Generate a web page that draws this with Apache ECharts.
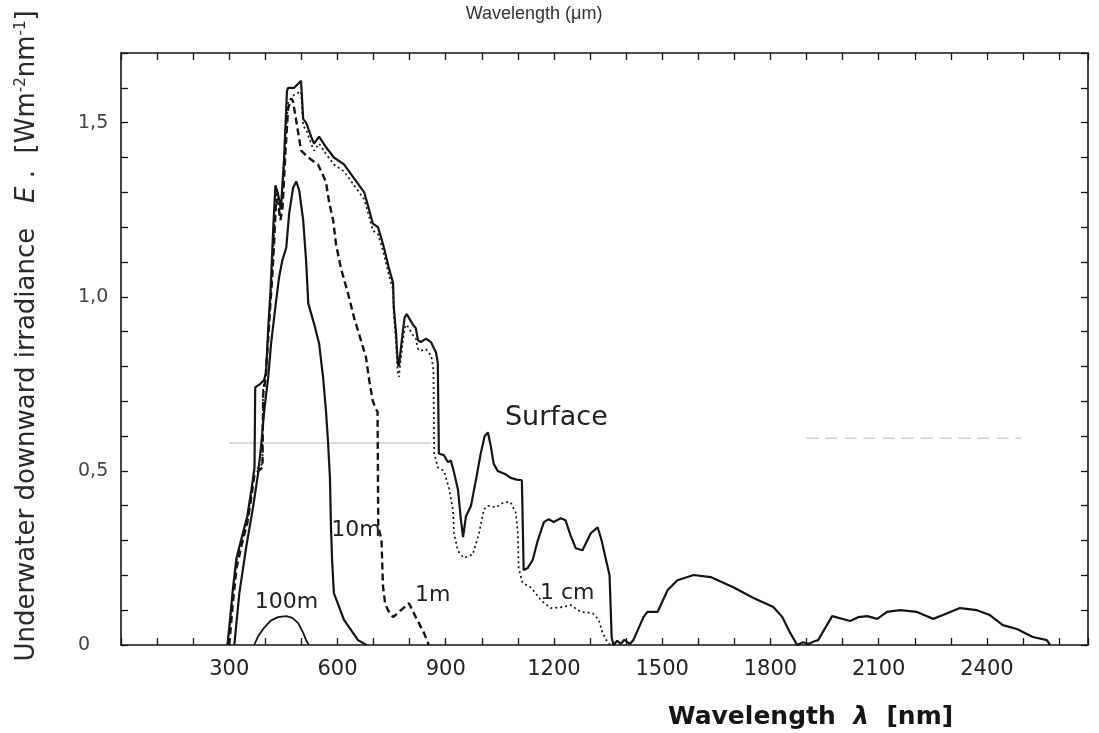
<!DOCTYPE html>
<html>
<head>
<meta charset="utf-8">
<title>Underwater downward irradiance</title>
<script src="https://cdn.jsdelivr.net/npm/echarts@6/dist/echarts.min.js"></script>
<style>
  html, body { margin: 0; padding: 0; background: #fff; }
  #chart { width: 1099px; height: 733px; }
</style>
</head>
<body>
<div id="chart"></div>
<script>
// Spectral irradiance just below the surface and at four depths (nm, W m^-2 nm^-1)
const surfaceNm = [295,300,310,320,335,350,362,370,372,386,396,402,408,414,418,422,428,434,440,443,452,460,463,480,499,505,513,527,535,549,568,590,618,646,674,685,698,712,721,729,743,754,756,762,767,770,781,786,792,809,817,823,831,845,859,873,878,881,895,906,914,922,934,942,948,956,970,983,997,1008,1017,1025,1033,1044,1066,1080,1097,1111,1116,1127,1141,1155,1172,1185,1199,1219,1232,1246,1260,1279,1302,1321,1332,1343,1354,1360,1365,1375,1385,1395,1410,1420,1448,1459,1487,1515,1542,1587,1634,1697,1753,1808,1833,1855,1874,1890,1905,1920,1932,1971,2021,2043,2068,2096,2123,2159,2206,2251,2278,2325,2372,2408,2444,2483,2527,2566,2575];
const surfaceE  = [0,0.05,0.16,0.25,0.31,0.37,0.45,0.51,0.74,0.75,0.76,0.78,0.91,1.01,1.10,1.20,1.32,1.30,1.27,1.25,1.40,1.59,1.60,1.60,1.62,1.51,1.50,1.46,1.44,1.46,1.43,1.40,1.38,1.34,1.30,1.26,1.21,1.20,1.17,1.14,1.08,1.04,0.97,0.90,0.81,0.80,0.90,0.94,0.95,0.92,0.91,0.875,0.87,0.88,0.87,0.84,0.81,0.55,0.545,0.525,0.53,0.50,0.445,0.36,0.31,0.37,0.40,0.47,0.55,0.60,0.61,0.57,0.52,0.50,0.49,0.48,0.475,0.473,0.215,0.221,0.244,0.30,0.353,0.361,0.353,0.364,0.358,0.315,0.278,0.272,0.321,0.338,0.30,0.25,0.20,0.02,0,0.012,0.003,0.015,0.003,0.014,0.08,0.095,0.095,0.158,0.186,0.201,0.195,0.166,0.135,0.109,0.08,0.034,0,0.008,0.003,0.01,0.014,0.083,0.069,0.08,0.083,0.075,0.095,0.10,0.095,0.075,0.086,0.106,0.10,0.086,0.057,0.046,0.023,0.014,0];

const cm1Nm = [295,300,310,320,335,350,362,370,392,394,400,408,414,420,425,430,434,440,446,455,463,480,499,505,513,527,535,549,568,590,618,646,674,685,698,712,721,729,743,754,756,762,767,770,781,786,792,809,817,823,831,845,860,866,868,878,895,909,920,923,934,950,975,992,1006,1017,1039,1061,1080,1094,1100,1102,1113,1135,1149,1163,1191,1227,1246,1274,1307,1324,1335,1349,1357];
const cm1E  = [0,0.04,0.15,0.24,0.30,0.36,0.44,0.50,0.52,0.74,0.77,0.89,0.99,1.09,1.19,1.30,1.28,1.24,1.28,1.43,1.56,1.58,1.59,1.49,1.48,1.44,1.42,1.44,1.41,1.38,1.36,1.32,1.28,1.24,1.19,1.18,1.15,1.12,1.06,1.02,0.95,0.87,0.78,0.77,0.87,0.91,0.92,0.89,0.88,0.85,0.845,0.85,0.83,0.79,0.55,0.51,0.50,0.45,0.39,0.32,0.27,0.25,0.26,0.32,0.39,0.40,0.395,0.41,0.41,0.38,0.32,0.22,0.178,0.166,0.149,0.129,0.106,0.109,0.115,0.095,0.092,0.072,0.034,0.006,0];

const m1Nm = [300,310,320,335,350,362,370,392,394,400,408,414,420,425,430,436,442,448,456,463,472,477,485,499,519,532,546,568,577,588,596,610,629,646,665,679,688,698,705,711,713,722,726,732,740,754,776,798,817,840,853];
const m1E  = [0,0.12,0.22,0.29,0.35,0.43,0.49,0.51,0.72,0.76,0.88,0.98,1.07,1.17,1.28,1.26,1.22,1.26,1.42,1.54,1.57,1.56,1.51,1.42,1.40,1.39,1.38,1.33,1.27,1.22,1.15,1.08,1.01,0.94,0.875,0.826,0.76,0.70,0.68,0.67,0.34,0.30,0.17,0.12,0.10,0.08,0.10,0.12,0.08,0.034,0];

const m10Nm = [314,328,347,366,380,388,397,408,416,430,438,447,458,466,477,486,494,505,513,519,535,549,560,568,574,579,582,585,590,618,657,680];
const m10E  = [0,0.149,0.281,0.396,0.493,0.568,0.674,0.769,0.866,0.989,1.055,1.104,1.141,1.239,1.313,1.331,1.305,1.219,1.104,0.981,0.923,0.866,0.769,0.674,0.579,0.482,0.338,0.244,0.149,0.072,0.014,0];

const m100Nm = [369,380,397,415,435,458,475,491,505,513,521];
const m100E  = [0,0.025,0.05,0.07,0.08,0.083,0.078,0.063,0.035,0.014,0];

// Curve annotations: text and the data point its left edge sits on
const curveLabels = [
  { text: 'Surface', nm: 1064, e: 0.652, size: 27 },
  { text: '10m',     nm: 583,  e: 0.330, size: 22 },
  { text: '1m',      nm: 815,  e: 0.144, size: 22 },
  { text: '1 cm',    nm: 1161, e: 0.149, size: 22 },
  { text: '100m',    nm: 371,  e: 0.123, size: 22 }
];

// Faint horizontal crease lines across the sheet: [nmFrom, nmTo, level, dashed]
const creases = [
  [300, 860, 0.58, false],
  [1900, 2495, 0.594, true]
];

const xLabelValues = [300, 600, 900, 1200, 1500, 1800, 2100, 2400];
const yLabelText = { 0: '0', 5: '0,5', 10: '1,0', 15: '1,5' };

const zip = (xs, ys) => xs.map((x, i) => [x, ys[i]]);
const INK = '#151515';
const FONT = '"DejaVu Sans", sans-serif';

const chart = echarts.init(document.getElementById('chart'), null, { renderer: 'canvas' });

const tickStyle = { show: true, inside: true, length: 7, lineStyle: { color: INK, width: 1.3 } };
const axisLineStyle = { show: true, onZero: false, lineStyle: { color: INK, width: 1.6 } };

const option = {
  animation: false,
  backgroundColor: '#fff',
  grid: { left: 121, right: 11, top: 53, bottom: 88, containLabel: false },
  xAxis: [
    {
      type: 'value', position: 'bottom', min: 0, max: 2680, interval: 100,
      axisLine: axisLineStyle, axisTick: tickStyle, splitLine: { show: false },
      axisLabel: {
        color: '#222', fontFamily: FONT, fontSize: 21, margin: 14,
        formatter: v => (xLabelValues.indexOf(v) >= 0 ? String(v) : '')
      }
    },
    {
      type: 'value', position: 'top', min: 0, max: 2680, interval: 100,
      axisLine: axisLineStyle, axisTick: tickStyle, splitLine: { show: false },
      axisLabel: { show: false }
    }
  ],
  yAxis: [
    {
      type: 'value', position: 'left', min: 0, max: 1.7, interval: 0.1,
      axisLine: axisLineStyle, axisTick: tickStyle, splitLine: { show: false },
      axisLabel: {
        color: '#444', fontFamily: FONT, fontSize: 19, margin: 43, align: 'left',
        formatter: v => { const k = Math.round(v * 10); return yLabelText[k] !== undefined ? yLabelText[k] : ''; }
      }
    },
    {
      type: 'value', position: 'right', min: 0, max: 1.7, interval: 0.1,
      axisLine: axisLineStyle, axisTick: tickStyle, splitLine: { show: false },
      axisLabel: { show: false }
    }
  ],
  series: [
    { name: 'Surface', type: 'line', data: zip(surfaceNm, surfaceE), showSymbol: false, symbol: 'none',
      lineStyle: { color: INK, width: 2.2, type: 'solid' }, z: 5 },
    { name: '1 cm', type: 'line', data: zip(cm1Nm, cm1E), showSymbol: false, symbol: 'none',
      lineStyle: { color: INK, width: 1.7, type: [2, 3] }, z: 4 },
    { name: '1m', type: 'line', data: zip(m1Nm, m1E), showSymbol: false, symbol: 'none',
      lineStyle: { color: INK, width: 2.4, type: [7, 4] }, z: 4 },
    { name: '10m', type: 'line', data: zip(m10Nm, m10E), showSymbol: false, symbol: 'none',
      lineStyle: { color: INK, width: 2.2, type: 'solid' }, z: 4 },
    { name: '100m', type: 'line', data: zip(m100Nm, m100E), showSymbol: false, symbol: 'none',
      lineStyle: { color: INK, width: 1.8, type: 'solid' }, z: 4 }
  ]
};
chart.setOption(option);

const toPx = (nm, e) => chart.convertToPixel({ xAxisIndex: 0, yAxisIndex: 0 }, [nm, e]);

// Titles, curve annotations and sheet creases
const graphics = [
  {
    type: 'text', x: 534, y: 14,
    style: { text: 'Wavelength (μm)', fill: '#333', font: '18px "Liberation Sans", Arial, sans-serif',
             align: 'center', verticalAlign: 'middle' }
  },
  {
    type: 'text', x: 668, y: 717,
    style: {
      text: 'Wavelength  {l|λ}  [nm]', fill: INK, font: 'bold 25px ' + FONT,
      align: 'left', verticalAlign: 'middle',
      rich: { l: { fontFamily: FONT, fontSize: 25, fontWeight: 'bold', fontStyle: 'italic', fill: INK } }
    }
  },
  {
    type: 'text', x: 27, y: 336, rotation: Math.PI / 2,
    style: {
      text: 'Underwater downward irradiance   {e|E} .  [Wm{s|-2}nm{s|-1}]',
      fill: '#2a2a2a', font: '26px ' + FONT, align: 'center', verticalAlign: 'middle',
      rich: {
        e: { fontFamily: FONT, fontSize: 26, fontStyle: 'italic', fill: '#2a2a2a' },
        s: { fontFamily: FONT, fontSize: 15, verticalAlign: 'top', fill: '#2a2a2a' }
      }
    }
  }
];
creases.forEach(c => {
  const a = toPx(c[0], c[2]);
  const b = toPx(c[1], c[2]);
  graphics.push({
    type: 'line', z: 1, silent: true,
    shape: { x1: a[0], y1: a[1], x2: b[0], y2: b[1] },
    style: { stroke: '#b5b5b5', lineWidth: 1, lineDash: c[3] ? [12, 7] : null }
  });
});
curveLabels.forEach(l => {
  const p = toPx(l.nm, l.e);
  graphics.push({
    type: 'text', x: p[0], y: p[1], z: 10,
    style: { text: l.text, fill: '#222', font: l.size + 'px ' + FONT, align: 'left', verticalAlign: 'middle' }
  });
});
chart.setOption({ graphic: graphics });
</script>
</body>
</html>
